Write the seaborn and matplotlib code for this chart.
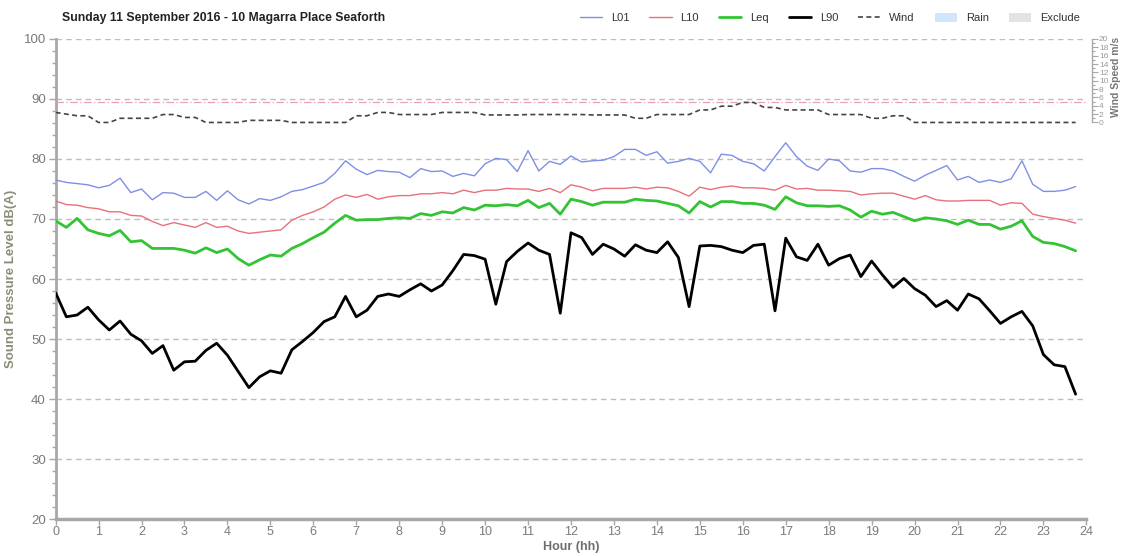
import numpy as np
import pandas as pd
import matplotlib
matplotlib.use("Agg")
import matplotlib.pyplot as plt
import seaborn as sns
from matplotlib.lines import Line2D
from matplotlib.patches import Patch
from matplotlib.ticker import MultipleLocator, FixedLocator

# 15-minute logging intervals over the day
hours = np.arange(96) * 0.25

l01 = [76.5, 76.1, 75.9, 75.7, 75.2, 75.6, 76.8, 74.4, 75.0, 73.2, 74.4, 74.3,
       73.6, 73.6, 74.6, 73.1, 74.7, 73.2, 72.5, 73.4, 73.1, 73.7, 74.6, 74.9,
       75.5, 76.1, 77.6, 79.7, 78.3, 77.4, 78.1, 77.9, 77.8, 76.9, 78.4, 77.9,
       78.0, 77.1, 77.6, 77.2, 79.2, 80.1, 79.9, 77.9, 81.4, 78.0, 79.6, 79.1,
       80.5, 79.5, 79.7, 79.8, 80.4, 81.6, 81.6, 80.6, 81.2, 79.3, 79.6, 80.1,
       79.6, 77.7, 80.8, 80.6, 79.6, 79.2, 78.0, 80.4, 82.7, 80.4, 78.8, 78.1,
       80.0, 79.7, 78.0, 77.8, 78.4, 78.4, 78.0, 77.1, 76.3, 77.3, 78.1, 78.9,
       76.5, 77.1, 76.1, 76.5, 76.1, 76.7, 79.7, 75.8, 74.6, 74.6, 74.8, 75.4]

l10 = [73.0, 72.4, 72.3, 71.9, 71.7, 71.2, 71.2, 70.6, 70.5, 69.6, 68.9, 69.4,
       69.0, 68.6, 69.4, 68.6, 68.8, 68.0, 67.6, 67.8, 68.0, 68.2, 69.8, 70.6,
       71.2, 72.0, 73.3, 74.0, 73.6, 74.1, 73.3, 73.7, 73.9, 73.9, 74.2, 74.2,
       74.4, 74.2, 74.8, 74.4, 74.8, 74.8, 75.1, 75.0, 75.0, 74.6, 75.1, 74.4,
       75.7, 75.3, 74.7, 75.1, 75.1, 75.1, 75.3, 75.0, 75.3, 75.2, 74.6, 73.8,
       75.3, 74.9, 75.3, 75.5, 75.2, 75.2, 75.1, 74.8, 75.6, 75.0, 75.1, 74.8,
       74.8, 74.7, 74.6, 74.0, 74.2, 74.3, 74.3, 73.8, 73.3, 73.9, 73.2, 73.0,
       73.0, 73.1, 73.1, 73.1, 72.3, 72.7, 72.6, 70.8, 70.4, 70.1, 69.8, 69.3]

leq = [69.7, 68.6, 70.1, 68.2, 67.6, 67.2, 68.1, 66.2, 66.4, 65.1, 65.1, 65.1,
       64.8, 64.3, 65.2, 64.4, 65.0, 63.4, 62.3, 63.2, 64.0, 63.8, 65.1, 65.9,
       66.9, 67.8, 69.3, 70.6, 69.8, 69.9, 69.9, 70.1, 70.2, 70.1, 70.9, 70.6,
       71.2, 71.0, 71.9, 71.5, 72.3, 72.2, 72.4, 72.2, 73.1, 71.9, 72.6, 70.8,
       73.3, 72.9, 72.3, 72.8, 72.8, 72.8, 73.3, 73.1, 73.0, 72.6, 72.2, 71.0,
       72.9, 72.0, 72.9, 72.9, 72.6, 72.6, 72.3, 71.6, 73.7, 72.7, 72.2, 72.2,
       72.1, 72.2, 71.5, 70.3, 71.3, 70.8, 71.1, 70.4, 69.7, 70.2, 70.0, 69.7,
       69.1, 69.8, 69.1, 69.1, 68.3, 68.8, 69.7, 67.1, 66.1, 65.9, 65.4, 64.7]

l90 = [57.7, 53.7, 54.0, 55.3, 53.2, 51.5, 53.0, 50.8, 49.7, 47.6, 48.9, 44.8,
       46.2, 46.3, 48.1, 49.3, 47.3, 44.6, 41.9, 43.7, 44.7, 44.3, 48.2, 49.6,
       51.1, 52.9, 53.7, 57.1, 53.7, 54.8, 57.1, 57.5, 57.1, 58.2, 59.2, 58.0,
       59.0, 61.4, 64.1, 63.9, 63.3, 55.8, 62.9, 64.6, 66.0, 64.8, 64.1, 54.3,
       67.7, 66.9, 64.1, 65.8, 65.0, 63.8, 65.7, 64.8, 64.4, 66.2, 63.6, 55.4,
       65.5, 65.6, 65.4, 64.8, 64.4, 65.6, 65.8, 54.7, 66.8, 63.7, 63.1, 65.8,
       62.3, 63.4, 64.0, 60.4, 63.0, 60.7, 58.6, 60.1, 58.4, 57.3, 55.4, 56.4,
       54.8, 57.5, 56.7, 54.7, 52.6, 53.7, 54.6, 52.2, 47.4, 45.7, 45.4, 40.8]

wind = [2.4, 2.0, 1.6, 1.6, 0.0, 0.0, 1.0, 1.0, 1.0, 1.0, 1.9, 1.9,
        1.2, 1.2, 0.0, 0.0, 0.0, 0.0, 0.5, 0.5, 0.5, 0.5, 0.0, 0.0,
        0.0, 0.0, 0.0, 0.0, 1.6, 1.6, 2.4, 2.4, 1.9, 1.9, 1.9, 1.9,
        2.4, 2.4, 2.4, 2.4, 1.8, 1.8, 1.8, 1.8, 1.9, 1.9, 1.9, 1.9,
        1.9, 1.9, 1.8, 1.8, 1.8, 1.8, 1.0, 1.0, 1.9, 1.9, 1.9, 1.9,
        3.0, 3.0, 3.9, 3.9, 4.8, 4.8, 3.6, 3.6, 3.0, 3.0, 3.0, 3.0,
        1.9, 1.9, 1.9, 1.9, 1.0, 1.0, 1.6, 1.6, 0.0, 0.0, 0.0, 0.0,
        0.0, 0.0, 0.0, 0.0, 0.0, 0.0, 0.0, 0.0, 0.0, 0.0, 0.0, 0.0]

wind_limit = 5.0
x_ticks = list(range(0, 25))
y_ticks = list(range(20, 101, 10))
wind_ticks = list(range(0, 21, 2))

df = pd.DataFrame({"hour": hours, "L01": l01, "L10": l10, "Leq": leq,
                   "L90": l90, "Wind": wind})

sns.set_theme(style="white")
plt.rcParams["font.family"] = ["Liberation Sans", "DejaVu Sans"]

fig = plt.figure(figsize=(11.26, 5.56), dpi=100)
ax = fig.add_axes([0.0494, 0.0665, 0.9154, 0.8634])

grid_col = "#bdbdbd"
axis_col = "#a8a8a8"
tick_txt = "#7a7a7a"

styles = {
    "L01": dict(color="#7f8fe6", lw=1.0),
    "L10": dict(color="#e8707a", lw=1.0),
    "Leq": dict(color="#33c433", lw=2.0),
    "L90": dict(color="#000000", lw=2.0),
}
for name, st in styles.items():
    sns.lineplot(data=df, x="hour", y=name, ax=ax, color=st["color"],
                 linewidth=st["lw"], zorder=5)

ax.set_xlim(0, 24)
ax.set_ylim(20, 100)
ax.set_xticks(x_ticks)
ax.set_yticks(y_ticks)
ax.yaxis.set_minor_locator(MultipleLocator(2))
ax.grid(False)
for yv in y_ticks[1:]:
    ax.axhline(yv, color=grid_col, lw=1.0, ls=(0, (4, 3)), zorder=1)

for s in ["top", "right"]:
    ax.spines[s].set_visible(False)
ax.spines["left"].set_color(axis_col)
ax.spines["left"].set_linewidth(2.0)
ax.spines["bottom"].set_color(axis_col)
ax.spines["bottom"].set_linewidth(2.5)

ax.tick_params(axis="y", which="major", length=5, width=1, color=axis_col,
               labelsize=9.5, labelcolor=tick_txt, left=True, pad=2)
ax.tick_params(axis="y", which="minor", length=3, width=1, color=axis_col,
               left=True)
ax.tick_params(axis="x", which="major", length=4, width=1, color=axis_col,
               labelsize=9, labelcolor=tick_txt, bottom=True, pad=1)
for lab in ax.get_xticklabels():
    lab.set_family(["Liberation Sans Narrow", "Liberation Sans", "DejaVu Sans"])

ax.set_xlabel("Hour (hh)", fontsize=9, fontweight="bold", color="#6e6e6e",
              labelpad=2)
ax.set_ylabel("Sound Pressure Level dB(A)", fontsize=9.5, fontweight="bold",
              color="#8c8c78")
ax.yaxis.set_label_coords(-0.037, 0.5)

# Wind speed on a secondary scale occupying the top band of the chart
ax2 = ax.twinx()
ax2.set_ylim(-95, 20)
sns.lineplot(data=df, x="hour", y="Wind", ax=ax2, color="#444444",
             linewidth=1.2, linestyle=(0, (3, 2)), zorder=4)
ax2.axhline(wind_limit, color="#e9a0b0", lw=0.9, ls=(0, (6, 2, 1, 2)), zorder=2)
ax2.set_yticks(wind_ticks)
ax2.yaxis.set_minor_locator(FixedLocator(list(range(1, 20, 2))))
for s in ["top", "left", "bottom"]:
    ax2.spines[s].set_visible(False)
ax2.spines["right"].set_bounds(0, 20)
ax2.spines["right"].set_color(axis_col)
ax2.spines["right"].set_linewidth(1.0)
ax2.spines["right"].set_position(("outward", 4))
ax2.tick_params(axis="y", which="major", length=4, width=0.8, color=axis_col,
                labelsize=6, labelcolor="#9a9a9a", right=True, pad=1)
ax2.tick_params(axis="y", which="minor", length=2, width=0.8, color=axis_col,
                right=True)
ax2.set_ylabel("")
ax2.grid(False)
fig.text(0.991, 0.862, "Wind Speed m/s", rotation=90, ha="center", va="center",
         fontsize=7.5, fontweight="bold", color="#777777")

fig.text(0.055, 0.967, "Sunday 11 September 2016 - 10 Magarra Place Seaforth",
         fontsize=8.8, fontweight="bold", color="#222222", va="center")

handles = [
    Line2D([], [], color=styles["L01"]["color"], lw=1.0),
    Line2D([], [], color=styles["L10"]["color"], lw=1.0),
    Line2D([], [], color=styles["Leq"]["color"], lw=2.0),
    Line2D([], [], color=styles["L90"]["color"], lw=2.0),
    Line2D([], [], color="#444444", lw=1.2, ls=(0, (3, 2))),
    Patch(facecolor="#cfe6fb", edgecolor="none"),
    Patch(facecolor="#e3e3e3", edgecolor="none"),
]
labels = ["L01", "L10", "Leq", "L90", "Wind", "Rain", "Exclude"]
fig.legend(handles, labels, loc="center left", bbox_to_anchor=(0.506, 0.968),
           ncol=7, frameon=False, fontsize=8, handlelength=2.0,
           handleheight=0.9, columnspacing=1.8, handletextpad=0.8,
           labelcolor="#333333")

fig.savefig("out.png", dpi=100)
